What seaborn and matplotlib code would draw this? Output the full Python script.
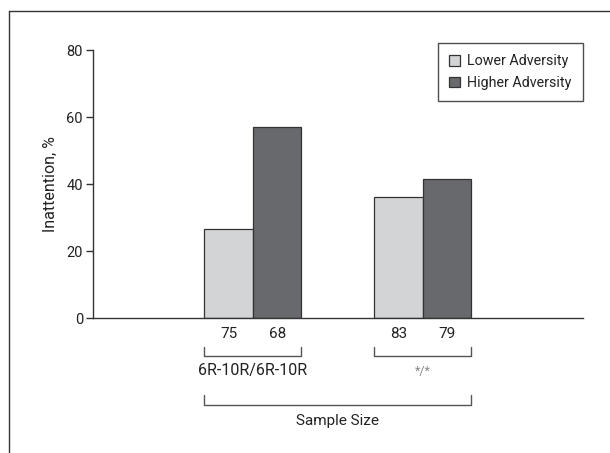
import matplotlib
matplotlib.use("Agg")
import matplotlib.pyplot as plt
import matplotlib.transforms as mtransforms
from matplotlib.lines import Line2D
import seaborn as sns
import pandas as pd

genotypes = ["6R-10R/6R-10R", "*/*"]
adversity = ["Lower Adversity", "Higher Adversity"]
lower_values = [26.5, 36.0]
higher_values = [57.1, 41.5]
lower_n = [75, 83]
higher_n = [68, 79]
y_ticks = [0, 20, 40, 60, 80]
colors = ["#d3d4d6", "#68696d"]

df = pd.DataFrame({
    "Genotype": genotypes * 2,
    "Adversity": [adversity[0]] * 2 + [adversity[1]] * 2,
    "Inattention": lower_values + higher_values,
})

sns.set_theme(style="white")
plt.rcParams["font.family"] = ["Roboto", "DejaVu Sans"]

TXT = "#222222"
fig = plt.figure(figsize=(6.1, 4.53), dpi=100)
ax = fig.add_axes([0.1518, 0.298, 0.955 - 0.1518, 0.8896 - 0.298])

width = 0.572
sns.barplot(data=df, x="Genotype", y="Inattention", hue="Adversity",
            order=genotypes, hue_order=adversity, palette=colors,
            width=width, edgecolor="#333333", linewidth=0.9, ax=ax,
            errorbar=None, saturation=1)

ax.set_xlim(-0.946, 1.944)
ax.set_ylim(0, 80)
ax.set_yticks(y_ticks)
ax.set_yticklabels([str(t) for t in y_ticks], fontsize=10.5, color=TXT)
ax.set_xticks([])
ax.set_xlabel("")
ax.set_ylabel("Inattention, %", fontsize=11.5, color=TXT, labelpad=6)
for s in ["top", "right"]:
    ax.spines[s].set_visible(False)
for s in ["left", "bottom"]:
    ax.spines[s].set_color("#333333")
    ax.spines[s].set_linewidth(1.0)
ax.tick_params(axis="y", direction="out", length=5, width=1, color="#333333", pad=2, left=True)

# legend
leg = ax.legend(loc="upper right", bbox_to_anchor=(1.0, 1.026), borderaxespad=0,
                fontsize=10.3, frameon=True, fancybox=False, handlelength=0.72,
                handleheight=0.72, handletextpad=0.5, borderpad=0.8, labelspacing=0.5)
leg.get_frame().set_edgecolor("#222222")
leg.get_frame().set_linewidth(1.0)
for t in leg.get_texts():
    t.set_color(TXT)

# annotations below axis (x in data, y in figure pixels from top)
H = 453.0
trans = mtransforms.blended_transform_factory(ax.transData, fig.transFigure)
def fy(py):
    return 1 - py / H

bw = width / 2
for i in range(len(genotypes)):
    xl = i - bw / 2
    xh = i + bw / 2
    ax.text(xl, fy(334), str(lower_n[i]), transform=trans, ha="center", va="center",
            fontsize=11, color=TXT)
    ax.text(xh, fy(334), str(higher_n[i]), transform=trans, ha="center", va="center",
            fontsize=11, color=TXT)
    x0, x1 = i - width / 2, i + width / 2
    ax.add_line(Line2D([x0, x0, x1, x1], [fy(347), fy(356), fy(356), fy(347)],
                       transform=trans, color="#555555", lw=1.0, clip_on=False))
    ax.text(i, fy(371), genotypes[i], transform=trans, ha="center", va="center",
            fontsize=11.5 if i == 0 else 9,
            color=TXT if i == 0 else "#888888")

x0, x1 = -width / 2, 1 + width / 2
ax.add_line(Line2D([x0, x0, x1, x1], [fy(395), fy(405), fy(405), fy(395)],
                   transform=trans, color="#555555", lw=1.0, clip_on=False))
ax.text(0.5, fy(421), "Sample Size", transform=trans, ha="center", va="center",
        fontsize=11, color=TXT)

# outer frame lines (left and top)
fig.add_artist(Line2D([8.5 / 610, 8.5 / 610], [0, fy(11)], transform=fig.transFigure,
                      color="#333333", lw=1.0))
fig.add_artist(Line2D([8.5 / 610, 1], [fy(11), fy(11)], transform=fig.transFigure,
                      color="#333333", lw=1.0))

fig.savefig("out.png", dpi=100)
